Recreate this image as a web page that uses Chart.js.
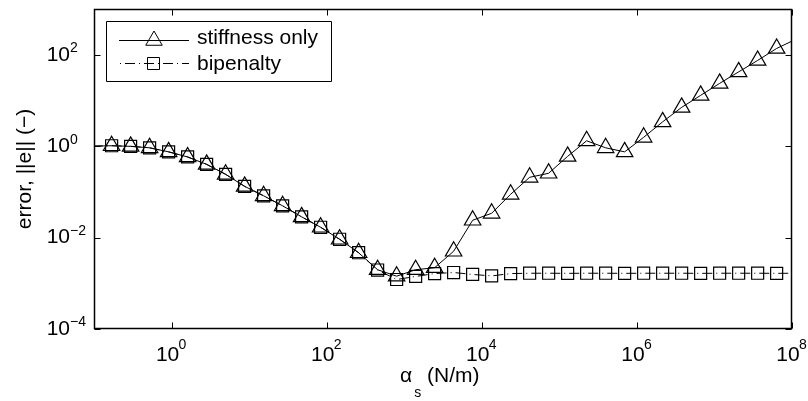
<!DOCTYPE html>
<html><head><meta charset="utf-8">
<script src="https://cdn.jsdelivr.net/npm/chart.js@4/dist/chart.umd.min.js"></script>
<style>html,body{margin:0;padding:0;background:#fff}#wrap{width:808px;height:401px}</style>
</head><body><div id="wrap"><canvas id="c" width="808" height="401"></canvas></div>
<script>
// ---- data ----
const alphaS = [0.0959, 0.1687, 0.2965, 0.5212, 0.9162, 1.611, 2.831, 4.977, 8.750, 15.38,
  27.04, 47.53, 83.56, 146.9, 258.2, 453.9, 798.0, 1403, 2466, 4335,
  7621, 13397, 23550, 41400, 72778, 127938, 224905, 395367, 695024, 1221800,
  2147800, 3775700, 6637400, 11668000, 20512000, 36058000, 63387000, 111430000];
const stiffnessOnly = [1.0, 1.02, 0.99, 0.92, 0.75, 0.58, 0.40, 0.242, 0.132, 0.082,
  0.0495, 0.0284, 0.0168, 0.00918, 0.00466, 0.00198, 0.00143, 0.00198, 0.00219, 0.00502,
  0.0239, 0.034, 0.0885, 0.208, 0.255, 0.598, 1.31, 0.92, 0.75, 1.56,
  3.40, 7.05, 12.9, 23.6, 42.1, 75.0, 137, 217];
const bipenalty = [1.0, 1.02, 0.99, 0.92, 0.75, 0.58, 0.40, 0.242, 0.132, 0.082,
  0.0495, 0.0284, 0.0168, 0.00918, 0.00466, 0.00195, 0.00121, 0.00141, 0.00163, 0.00172,
  0.00156, 0.00145, 0.00163, 0.00166, 0.00166, 0.00165, 0.00166, 0.00166, 0.00165, 0.00166,
  0.00166, 0.00166, 0.00165, 0.00166, 0.00166, 0.00166, 0.00165, 0.00166];
const seriesLabels = ['stiffness only', 'bipenalty'];
const xRange = [0.1, 1e8];
const yRange = [1e-4, 1e3];
const xTickValues = [1, 1e2, 1e4, 1e6, 1e8];
const xTickExponents = ['0', '2', '4', '6', '8'];
const yTickValues = [1e-4, 1e-2, 1, 1e2];
const yTickExponents = ['\u22124', '\u22122', '0', '2'];
const tickBase = '10';
const yAxisTitle = 'error, ||e|| (\u2212)';
const xAxisTitleSymbol = '\u03B1';
const xAxisTitleSub = 's';
const xAxisTitleUnit = ' (N/m)';

// ---- styling ----
const FF = "'Liberation Sans', Arial, Helvetica, sans-serif";
const DASHDOT = [10, 4, 1, 4];
const inX = v => v >= xRange[0] && v <= xRange[1];

const decorations = {
  id: 'decorations',
  afterDatasetsDraw(chart) {
    const {ctx, chartArea: a, scales: {x, y}} = chart;
    ctx.save();
    ctx.strokeStyle = '#000';
    const L = Math.round(a.left) + 0.5, R = Math.round(a.right) - 0.5;
    const T = Math.round(a.top) + 0.5, B = Math.round(a.bottom) - 0.5;
    ctx.lineWidth = 1.5;
    ctx.beginPath();
    ctx.rect(L, T, R - L, B - T);
    ctx.stroke();
    ctx.lineWidth = 1;
    ctx.beginPath();
    xTickValues.forEach(v => {
      const p = Math.round(x.getPixelForValue(v)) + 0.5;
      ctx.moveTo(p, B); ctx.lineTo(p, B - 6);
      ctx.moveTo(p, T); ctx.lineTo(p, T + 6);
    });
    yTickValues.forEach(v => {
      const p = Math.round(y.getPixelForValue(v)) + 0.5;
      ctx.moveTo(L, p); ctx.lineTo(L + 6, p);
      ctx.moveTo(R, p); ctx.lineTo(R - 6, p);
    });
    ctx.stroke();

    // exponents of tick labels
    ctx.fillStyle = '#000';
    ctx.font = '14px ' + FF;
    ctx.textAlign = 'left';
    ctx.textBaseline = 'middle';
    yTickValues.forEach((v, i) => {
      ctx.fillText(yTickExponents[i], a.left - 24, y.getPixelForValue(v) - 6.5);
    });
    xTickValues.forEach((v, i) => {
      ctx.fillText(xTickExponents[i], x.getPixelForValue(v) + 7, a.bottom + 16);
    });

    // x axis title with subscript
    ctx.font = '21px ' + FF;
    const w1 = ctx.measureText(xAxisTitleSymbol).width;
    ctx.font = '14px ' + FF;
    const w2 = ctx.measureText(xAxisTitleSub).width;
    let tx = (a.left + a.right) / 2 - 43;
    ctx.font = '21px ' + FF;
    ctx.fillText(xAxisTitleSymbol, tx, 376);
    ctx.font = '14px ' + FF;
    ctx.fillText(xAxisTitleSub, tx + w1 + 2, 393);
    ctx.font = '21px ' + FF;
    ctx.fillText(xAxisTitleUnit, tx + w1 + 2 + w2, 376);

    // legend
    ctx.beginPath();
    ctx.rect(106.5, 21.5, 225, 60);
    ctx.fillStyle = '#fff';
    ctx.fill();
    ctx.stroke();
    // row 1
    ctx.beginPath();
    ctx.moveTo(119, 40.5); ctx.lineTo(189, 40.5);
    ctx.stroke();
    const r = 9.5, cx = 154, cy = 40.5;
    ctx.beginPath();
    ctx.moveTo(cx, cy - r);
    ctx.lineTo(cx + 0.866 * r, cy + r / 2);
    ctx.lineTo(cx - 0.866 * r, cy + r / 2);
    ctx.closePath();
    ctx.stroke();
    // row 2
    ctx.beginPath();
    ctx.setLineDash(DASHDOT);
    ctx.lineDashOffset = 13;
    ctx.moveTo(119, 63.5); ctx.lineTo(189, 63.5);
    ctx.stroke();
    ctx.setLineDash([]);
    ctx.beginPath();
    ctx.rect(147.5, 57.5, 12, 12);
    ctx.stroke();
    ctx.fillStyle = '#000';
    ctx.font = '21px ' + FF;
    ctx.textAlign = 'left';
    ctx.textBaseline = 'middle';
    ctx.fillText(seriesLabels[0], 197, 38);
    ctx.fillText(seriesLabels[1], 197, 64);
    ctx.restore();
  }
};

new Chart(document.getElementById('c'), {
  type: 'line',
  data: {
    datasets: [
      {
        label: seriesLabels[1],
        data: alphaS.map((v, i) => ({x: v, y: bipenalty[i]})),
        borderColor: '#000', borderWidth: 1, borderDash: DASHDOT,
        pointStyle: 'rect',
        pointRadius: c => inX(alphaS[c.dataIndex]) ? 8.5 : 0,
        pointBorderColor: '#000', pointBackgroundColor: 'rgba(0,0,0,0)', pointBorderWidth: 1.2,
        tension: 0
      },
      {
        label: seriesLabels[0],
        data: alphaS.map((v, i) => ({x: v, y: stiffnessOnly[i]})),
        borderColor: '#000', borderWidth: 1,
        pointStyle: 'triangle',
        pointRadius: c => inX(alphaS[c.dataIndex]) ? 9.5 : 0,
        pointBorderColor: '#000', pointBackgroundColor: 'rgba(0,0,0,0)', pointBorderWidth: 1.2,
        tension: 0
      }
    ]
  },
  options: {
    responsive: false,
    animation: false,
    devicePixelRatio: 1,
    layout: {padding: {top: 9, right: 16, bottom: 0, left: 0}},
    plugins: {legend: {display: false}, tooltip: {enabled: false}},
    scales: {
      x: {
        type: 'logarithmic', position: 'bottom',
        min: xRange[0], max: xRange[1],
        grid: {display: false, drawTicks: false},
        border: {display: false},
        ticks: {color: '#000', font: {family: FF, size: 21}, padding: 14, labelOffset: -4,
          maxRotation: 0, autoSkip: false, callback: () => tickBase},
        afterBuildTicks: s => { s.ticks = xTickValues.map(v => ({value: v})); },
        afterFit: s => { s.height = 72; s.paddingLeft = 0; s.paddingRight = 0; }
      },
      y: {
        type: 'logarithmic', position: 'left',
        min: yRange[0], max: yRange[1],
        grid: {display: false, drawTicks: false},
        border: {display: false},
        ticks: {color: '#000', font: {family: FF, size: 21}, padding: 24, autoSkip: false,
          callback: () => tickBase},
        title: {display: true, text: yAxisTitle, color: '#000', font: {family: FF, size: 21},
          padding: {top: 12.4, bottom: 0}},
        afterBuildTicks: s => { s.ticks = yTickValues.map(v => ({value: v})); },
        afterFit: s => { s.width = 94; s.paddingTop = 0; s.paddingBottom = 0; }
      }
    }
  },
  plugins: [decorations]
});
</script></body></html>
